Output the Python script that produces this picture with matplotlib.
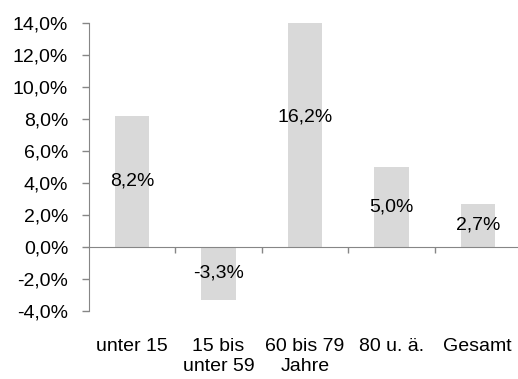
import matplotlib
matplotlib.use("Agg")
import matplotlib.pyplot as plt
from matplotlib.ticker import FixedLocator, FuncFormatter
from matplotlib.transforms import blended_transform_factory

plt.rcParams["font.family"] = ["Liberation Sans", "DejaVu Sans"]

categories = ["unter 15", "15 bis\nunter 59", "60 bis 79\nJahre", "80 u. ä.", "Gesamt"]
changes = [8.2, -3.3, 16.2, 5.0, 2.7]
y_ticks = [-4, -2, 0, 2, 4, 6, 8, 10, 12, 14]

bar_color = "#d9d9d9"
axis_color = "#868686"
font_size = 14

fig = plt.figure(figsize=(5.18, 3.79), dpi=100)
ax = fig.add_axes([0.1718, 0.1794, 0.834, 0.7599])

x = list(range(len(categories)))
ax.bar(x, changes, width=0.40, color=bar_color, zorder=1)

ax.set_xlim(-0.5, len(categories) - 0.5)
ax.set_ylim(-4, 14)

# value labels sit halfway up each bar, even where the bar is cut off
for xi, v in zip(x, changes):
    ax.text(xi, v / 2, f"{v:.1f}%".replace(".", ","), ha="center", va="center",
            fontsize=font_size, color="black", zorder=3)

for side in ("top", "right"):
    ax.spines[side].set_visible(False)
ax.spines["bottom"].set_position(("data", 0))
ax.spines["bottom"].set_color(axis_color)
ax.spines["left"].set_color(axis_color)
ax.spines["bottom"].set_zorder(2)

ax.yaxis.set_major_locator(FixedLocator(y_ticks))
ax.yaxis.set_major_formatter(FuncFormatter(lambda v, _: f"{v:.1f}%".replace(".", ",")))
ax.tick_params(axis="y", direction="out", length=5, width=1, color=axis_color,
               pad=10, labelsize=font_size, labelcolor="black")

# tick marks between categories on the zero line, names below the plot
ax.set_xticks([])
ax.xaxis.set_minor_locator(FixedLocator([i + 0.5 for i in x]))
ax.tick_params(axis="x", which="minor", direction="out", length=4, width=1,
               color=axis_color, labelbottom=False)

trans = blended_transform_factory(ax.transData, ax.transAxes)
for xi, name in zip(x, categories):
    ax.text(xi, -0.095, name, transform=trans, ha="center", va="top",
            fontsize=font_size, linespacing=1.2, color="black")

fig.savefig("out.png", dpi=100)
